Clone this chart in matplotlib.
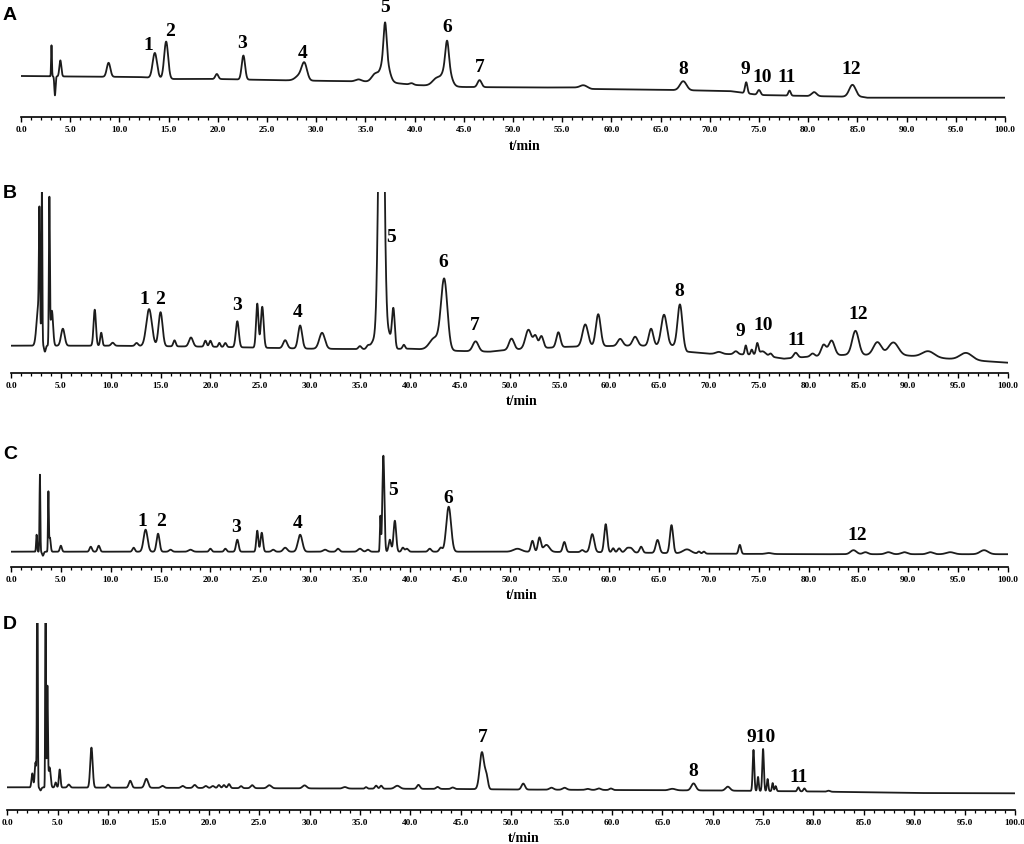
import numpy as np
import matplotlib
matplotlib.use("Agg")
import matplotlib.pyplot as plt

# retention time axis (min)
t_ticks = np.arange(0, 101, 5)
t_labels = ["%.1f" % v for v in t_ticks]

# ---- chromatogram A: peak times, heights above baseline, widths (sigma) ----
a_peak_t = [3.1, 3.45, 4.0, 8.9, 13.6, 14.75, 19.9, 22.6, 28.3, 28.8, 34.3, 36.0, 37.0, 37.0,
            39.7, 42.3, 43.3, 43.3, 46.6, 57.2, 67.3, 73.7, 75.0, 78.1, 80.6, 84.5]
a_peak_h = [31, -19, 16, 14, 25, 37, 5, 24, 5, 16, 2, 8, 34, 26,
            1.5, 8, 24, 21, 7, 2.5, 9, 11, 5, 5, 4, 12]
a_peak_w = [0.04, 0.06, 0.1, 0.18, 0.22, 0.2, 0.15, 0.17, 0.4, 0.27, 0.3, 0.35, 0.15, 0.38,
            0.2, 0.45, 0.17, 0.38, 0.2, 0.35, 0.33, 0.12, 0.15, 0.12, 0.25, 0.33]
a_base_t = [0, 5, 12, 15.5, 20, 25, 35, 38, 40, 45, 52, 57, 58, 63, 66, 72, 75, 80, 85.5, 86, 100]
a_base_v = [41, 40.5, 40, 38, 38, 37, 35.5, 34, 32, 30, 29.5, 29.5, 28, 27.5, 27, 26, 22, 21, 20, 19.3, 19.3]
a_names = ["1", "2", "3", "4", "5", "6", "7", "8", "9", "10", "11", "12"]

# ---- chromatogram B ----
b_peak_t = [2.75, 2.85, 3.1, 3.4, 3.85, 4.1, 5.2, 8.4, 9.05, 10.2, 12.6, 13.85, 15.0, 16.4,
            18.05, 19.5, 20.0, 20.9, 21.5, 22.7, 24.7, 25.2, 27.5, 29.0, 31.2, 35.0, 35.8,
            36.4, 37.15, 37.9, 38.35, 39.4, 42.5, 43.45, 46.6, 50.2, 51.9, 52.6, 53.2,
            54.9, 57.6, 58.9, 61.1, 62.6, 64.2, 65.5, 67.1, 71.0, 72.7, 73.7, 74.3, 74.85,
            75.4, 76.2, 78.7, 80.4, 81.5, 82.3, 84.7, 86.9, 88.5, 92.0, 95.8]
b_peak_h = [40, 105, 160, -6, 145, 35, 17, 36, 13, 3, 3, 37, 34, 6,
            9, 6, 6, 4, 4, 26, 44, 41, 8, 23, 16, 3, 3,
            8, 400, 14, 40, 4, 12, 70, 10, 11, 19, 12, 12,
            15, 22, 32, 7, 9, 17, 31, 42, 2, 3, 9, 5, 11,
            4, 3, 5, 3, 11, 15, 24, 13, 13, 6, 7]
b_peak_w = [0.18, 0.05, 0.04, 0.08, 0.05, 0.12, 0.18, 0.12, 0.1, 0.15, 0.15, 0.28, 0.2, 0.12,
            0.2, 0.12, 0.12, 0.1, 0.12, 0.15, 0.12, 0.14, 0.2, 0.2, 0.28, 0.15, 0.15,
            0.3, 0.25, 0.2, 0.14, 0.12, 0.5, 0.32, 0.28, 0.25, 0.3, 0.2, 0.2,
            0.2, 0.28, 0.24, 0.25, 0.25, 0.22, 0.28, 0.24, 0.3, 0.2, 0.1, 0.1, 0.12,
            0.3, 0.15, 0.2, 0.2, 0.25, 0.3, 0.33, 0.4, 0.5, 0.6, 0.6]
b_base_t = [0, 10, 20, 30, 36, 40, 44, 48, 50, 56, 62, 67, 67.8, 70, 75, 77.5, 80, 84, 90, 94, 97, 100]
b_base_v = [27, 27, 26, 24, 23.5, 24, 22, 21, 23, 26, 27, 27, 21, 19, 18, 14, 16, 18, 17, 14, 12, 10]
b_names = ["1", "2", "3", "4", "5", "6", "7", "8", "9", "10", "11", "12"]

# ---- chromatogram C ----
c_peak_t = [2.57, 2.9, 3.2, 3.75, 3.9, 5.0, 8.0, 8.8, 12.3, 13.5, 14.75, 16.0, 18.0, 20.0,
            21.5, 22.7, 24.7, 25.15, 26.3, 27.5, 29.0, 31.5, 32.8, 35.0, 35.8, 37.05, 37.35,
            38.0, 38.5, 39.3, 39.7, 42.0, 43.1, 43.9, 50.8, 52.3, 53.0, 53.7, 55.5, 57.3,
            58.3, 59.65, 60.4, 61.0, 61.8, 62.2, 63.2, 64.85, 66.25, 67.8, 69.0, 69.5, 73.1,
            76.0, 84.5, 85.7, 88.0, 89.6, 92.2, 94.2, 97.6]
c_peak_h = [17, 77, -4, 58, 14, 6, 5, 6, 4, 22, 18, 2, 2, 3,
            3, 12, 21, 19, 2, 4, 17, 2, 3, 3, 2, 35, 96,
            12, 31, 4, 3, 3, 4, 45, 3, 11, 14, 7, 10, 2,
            18, 28, 4, 4, 4, 4, 6, 13, 28, 4, 2, 2, 9,
            1, 4, 2, 2, 2, 2, 2, 4]
c_peak_w = [0.05, 0.04, 0.08, 0.04, 0.08, 0.1, 0.12, 0.12, 0.12, 0.2, 0.15, 0.15, 0.2, 0.12,
            0.12, 0.13, 0.1, 0.12, 0.15, 0.2, 0.22, 0.2, 0.15, 0.2, 0.15, 0.05, 0.1,
            0.12, 0.13, 0.12, 0.15, 0.15, 0.15, 0.24, 0.4, 0.15, 0.15, 0.3, 0.15, 0.15,
            0.2, 0.15, 0.12, 0.15, 0.2, 0.2, 0.15, 0.18, 0.16, 0.4, 0.12, 0.12, 0.12,
            0.3, 0.3, 0.25, 0.3, 0.3, 0.3, 0.4, 0.4]
c_base_t = [0, 50, 60, 70, 80, 100]
c_base_v = [15, 15, 14.5, 13, 12.5, 12.5]
c_names = ["1", "2", "3", "4", "5", "6", "12"]

# ---- chromatogram D ----
d_peak_t = [2.48, 2.8, 2.98, 3.3, 3.8, 3.98, 4.2, 4.8, 5.2, 6.1, 8.35, 10.0, 12.2, 13.8,
            15.4, 17.4, 18.6, 19.7, 20.4, 21.0, 21.5, 22.0, 23.2, 24.3, 26.0, 29.5, 33.5,
            35.6, 36.6, 37.1, 38.7, 40.8, 42.7, 44.2, 47.1, 47.55, 51.2, 54.0, 55.3, 57.6,
            58.7, 59.9, 66.0, 68.1, 71.5, 74.05, 74.5, 75.0, 75.45, 75.95, 76.25, 78.5,
            79.1, 81.5]
d_peak_h = [14, 25, 250, -3, 250, 100, 20, 5, 18, 3, 40, 3, 7, 9,
            2, 2, 3, 2, 2, 3, 3, 4, 2, 3, 3, 3, 1.5,
            1.5, 3, 3, 3, 4, 2, 1.5, 37, 12, 6, 2, 2, 1,
            1.5, 1.5, 1.5, 7, 4, 41, 14, 42, 12, 8, 5, 4,
            3, 1]
d_peak_w = [0.08, 0.08, 0.04, 0.08, 0.035, 0.05, 0.1, 0.08, 0.08, 0.12, 0.12, 0.12, 0.14, 0.17,
            0.15, 0.15, 0.15, 0.15, 0.15, 0.12, 0.12, 0.12, 0.12, 0.15, 0.2, 0.2, 0.2,
            0.1, 0.12, 0.12, 0.25, 0.15, 0.15, 0.15, 0.22, 0.15, 0.17, 0.2, 0.2, 0.2,
            0.2, 0.15, 0.3, 0.22, 0.22, 0.08, 0.07, 0.08, 0.07, 0.07, 0.08, 0.1,
            0.1, 0.15]
d_base_t = [0, 20, 45, 50, 60, 70, 75, 80, 90, 100]
d_base_v = [22.7, 22, 21, 20.5, 20, 19.5, 19, 18.5, 17, 16.7]
d_names = ["7", "8", "910", "11"]

# ---------------- layout (pixels of the 1024x844 figure) ----------------
W, H = 1024, 844
fig = plt.figure(figsize=(W / 100, H / 100), dpi=100)

# letter, x0 px, x100 px, top px, axis-line px, letter baseline px, ..., label anchors
panels = [
    ("A", 21, 1005, 5, 117, 20, a_peak_t, a_peak_h, a_peak_w, a_base_t, a_base_v, a_names,
     [(12.9, 72), (15.14, 85), (22.46, 74), (28.66, 64), (36.99, 110), (43.29, 90),
      (46.65, 49), (67.28, 47), (73.58, 48), (75.3, 40), (77.85, 40), (84.35, 47)]),
    ("B", 11, 1008, 191.7, 372.7, 198, b_peak_t, b_peak_h, b_peak_w, b_base_t, b_base_v, b_names,
     [(13.34, 72.7), (14.94, 72.7), (22.67, 66.7), (28.79, 59.7), (38.11, 135.7), (43.33, 109.7),
      (46.54, 46.7), (67.0, 80.7), (73.12, 40.7), (75.43, 46.7), (78.84, 31.7), (84.95, 57.7)]),
    ("C", 11, 1008, 445, 566.7, 459, c_peak_t, c_peak_h, c_peak_w, c_base_t, c_base_v, c_names,
     [(13.14, 44.7), (15.05, 44.7), (22.57, 39.7), (28.79, 43.7), (38.31, 76.7), (43.83, 68.7),
      (84.85, 30.7)]),
    ("D", 7.3, 1015, 622.7, 810, 629, d_peak_t, d_peak_h, d_peak_w, d_base_t, d_base_v, d_names,
     [(47.2, 72), (68.03, 39), (74.82, 73), (78.54, 33)]),
]

t = np.linspace(0, 100, 10001)
serif = ["Liberation Serif", "DejaVu Serif"]

for (letter, x0, x1, ytop, ybot, ylet, pt, ph, pw, bt, bv, names, lab_pos) in panels:
    ax = fig.add_axes([x0 / W, 1 - ybot / H, (x1 - x0) / W, (ybot - ytop) / H])
    y = np.interp(t, bt, bv)
    for c, h, w in zip(pt, ph, pw):
        y = y + h * np.exp(-0.5 * ((t - c) / w) ** 2)
    ax.plot(t, y, color="#1c1c1c", lw=1.3)
    ax.set_xlim(0, 100)
    ax.set_ylim(0, ybot - ytop)
    for s in ["left", "right", "top"]:
        ax.spines[s].set_visible(False)
    ax.spines["bottom"].set_linewidth(1.2)
    ax.set_yticks([])
    ax.set_xticks(t_ticks)
    ax.set_xticklabels(t_labels, fontfamily=serif, fontweight="bold", fontsize=6.7)
    ax.set_xticks(np.arange(0, 101, 1), minor=True)
    ax.tick_params(axis="x", which="major", direction="out", length=3.5, width=1, pad=3)
    ax.tick_params(axis="x", which="minor", direction="out", length=2.5, width=0.9)
    # t/min about 29 px under the axis line
    ax.text(51.2, -29 / (ybot - ytop), "t/min", transform=ax.get_xaxis_transform(),
            ha="center", va="center", fontfamily=serif, fontweight="bold", fontsize=10)
    for name, (lx, ly) in zip(names, lab_pos):
        ax.text(lx, ly, name, ha="center", va="center", fontfamily=serif,
                fontweight="bold", fontsize=14, clip_on=False)
    fig.text(3 / W, 1 - ylet / H, letter, ha="left", va="baseline",
             fontfamily=["Liberation Sans", "DejaVu Sans"], fontweight="bold", fontsize=14)

fig.savefig("out.png", dpi=100)
